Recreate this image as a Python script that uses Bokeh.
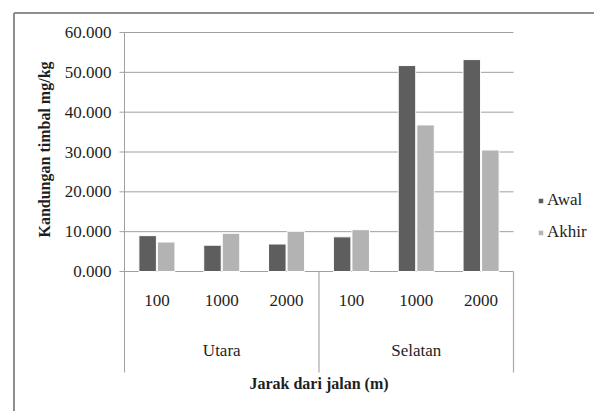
import math
from bokeh.plotting import figure
from bokeh.models import Range1d, Legend, LegendItem, ColumnDataSource
from bokeh.core.properties import value
from bokeh.embed import file_html
from bokeh.resources import INLINE

# ---- data ----
groups = ["Utara", "Selatan"]
distances = ["100", "1000", "2000"]
awal = [9.0, 6.6, 6.9, 8.7, 51.7, 53.2]
akhir = [7.4, 9.6, 10.1, 10.5, 36.8, 30.5]
series_names = ["Awal", "Akhir"]
y_ticks = [0, 10, 20, 30, 40, 50, 60]
y_tick_labels = ["0.000", "10.000", "20.000", "30.000", "40.000", "50.000", "60.000"]
y_title = "Kandungan timbal mg/kg"
x_title = "Jarak dari jalan (m)"

# ---- style / layout ----
FONT = "Liberation Serif"
TXT = "#1e1e1e"
GRID = "#a0a0a0"
SEP = "#aaaaaa"
BORDER = "#8e8e8e"
C_AWAL = "#5e5e5e"
C_AKHIR = "#b3b3b3"

W, H = 594, 411            # canvas size
PAGE = 0                   # canvas offset on the page
X0_PX, X6_PX = 124, 513    # page px of plot-area left / right
Y0_PX, Y60_PX = 271, 32    # page px of value 0 / 60
n_sub = len(distances)
n_cat = len(groups) * n_sub
y_top = y_ticks[-1]
PX_X = (X6_PX - X0_PX) / n_cat
PX_Y = (Y0_PX - Y60_PX) / y_top


def px2x(px):
    return (px - X0_PX) / PX_X


def px2y(py):
    return (Y0_PX - py) / PX_Y


centers = [i + 0.5 for i in range(n_cat)]
sub_labels = [d for g in groups for d in distances]
group_centers = [gi * n_sub + n_sub / 2 for gi in range(len(groups))]
separators = [gi * n_sub for gi in range(len(groups) + 1)]
y_bottom = px2y(372)

p = figure(width=W, height=H,
           x_range=Range1d(px2x(PAGE), px2x(PAGE + W)),
           y_range=Range1d(px2y(PAGE + H), px2y(PAGE)),
           output_backend="svg", toolbar_location=None,
           x_axis_location=None, y_axis_location=None,
           min_border=0, outline_line_color=None)
p.grid.visible = False

# outer chart border (top and left visible)
bx, by = px2x(13.5), px2y(12.5)
p.segment(x0=[bx, bx], y0=[by, by], x1=[px2x(PAGE + W), bx], y1=[by, px2y(PAGE + H)],
          line_color=BORDER, line_width=2)

# horizontal gridlines
p.segment(x0=[0] * len(y_ticks), y0=y_ticks, x1=[n_cat] * len(y_ticks), y1=y_ticks,
          line_color=GRID, line_width=1)

# y axis line, ticks and labels
p.segment(x0=[0], y0=[y_top], x1=[0], y1=[y_bottom], line_color=GRID, line_width=1)
p.segment(x0=[px2x(119)] * len(y_ticks), y0=y_ticks, x1=[0] * len(y_ticks), y1=y_ticks,
          line_color=GRID, line_width=1)
p.text(x=[px2x(111)] * len(y_ticks), y=y_ticks, text=y_tick_labels,
       text_align="right", text_baseline="middle",
       text_font=value(FONT), text_font_size="17px", text_color=TXT)
p.text(x=[px2x(44)], y=[px2y(149)], text=[y_title], angle=math.pi / 2,
       text_align="center", text_baseline="middle",
       text_font=value(FONT), text_font_size="16px", text_font_style="bold",
       text_color=TXT)

# bars
off = 0.143
bw = 0.27
src = ColumnDataSource(dict(
    xa=[c - off for c in centers], xb=[c + off for c in centers],
    awal=awal, akhir=akhir))
r1 = p.vbar(x="xa", top="awal", bottom=0, width=bw, source=src,
            fill_color=C_AWAL, line_color="white", line_width=1)
r2 = p.vbar(x="xb", top="akhir", bottom=0, width=bw, source=src,
            fill_color=C_AKHIR, line_color="white", line_width=1)

# category separators below zero line
p.segment(x0=separators[1:], y0=[0] * (len(separators) - 1),
          x1=separators[1:], y1=[y_bottom] * (len(separators) - 1),
          line_color=SEP, line_width=1.2)

# category labels
p.text(x=centers, y=[px2y(300)] * n_cat, text=sub_labels,
       text_align="center", text_baseline="middle",
       text_font=value(FONT), text_font_size="17px", text_color=TXT)
p.text(x=group_centers, y=[px2y(350)] * len(groups), text=groups,
       text_align="center", text_baseline="middle",
       text_font=value(FONT), text_font_size="17px", text_color=TXT)
p.text(x=[n_cat / 2], y=[px2y(383)], text=[x_title],
       text_align="center", text_baseline="middle",
       text_font=value(FONT), text_font_size="16px", text_font_style="bold",
       text_color=TXT)

# legend
leg_left = 537 - PAGE
leg_top = 190 - PAGE
leg_h = 20 + 12 + 20
legend = Legend(items=[LegendItem(label=series_names[0], renderers=[r1]),
                       LegendItem(label=series_names[1], renderers=[r2])],
                location=(leg_left, H - leg_top - leg_h), orientation="vertical",
                glyph_width=7, glyph_height=7, label_height=20,
                label_standoff=3, spacing=12, padding=0, margin=0,
                border_line_color=None, background_fill_alpha=0,
                label_text_font=FONT, label_text_font_size="17px",
                label_text_color=TXT)
p.add_layout(legend, "center")

open("out.html", "w").write(file_html(p, INLINE))
